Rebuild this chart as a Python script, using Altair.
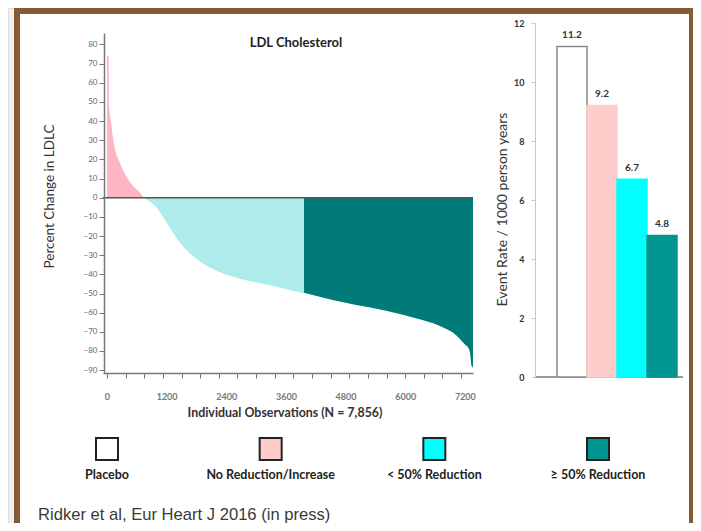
import altair as alt
import pandas as pd

# ---------------- data ----------------
# Left panel: individual % change in LDLC (sorted waterfall), by response group
pink_obs = [0, 35, 45, 70, 127, 262, 396, 529, 664, 730]
pink_pct = [74, 74, 47, 42, 30, 18, 11, 6, 2.7, 0]
cyan_obs = [730, 1000, 1201, 1469, 1805, 2139, 2676, 3346, 3964]
cyan_pct = [0, -5.2, -13, -23.5, -32, -37.4, -42.3, -46.1, -50]
teal_obs = [3964, 4823, 5493, 6157, 6700, 7036, 7203, 7270, 7304, 7338, 7364]
teal_pct = [-49.6, -55, -58.3, -62.5, -67, -72, -76.6, -78.5, -81, -88, -88.6]
area_groups = ["No Reduction/Increase", "< 50% Reduction", "≥ 50% Reduction"]

# Right panel: event rates
groups = ["Placebo", "No Reduction/Increase", "< 50% Reduction", "≥ 50% Reduction"]
rates = [11.2, 9.2, 6.7, 4.8]

# Axis tick values / labels
x_ticks = list(range(0, 7126, 375))
x_labels = [0, 1200, 2400, 3600, 4800, 6000, 7200]
y_left_ticks = list(range(-90, 81, 10))
y_right_ticks = [0, 2, 4, 6, 8, 10, 12]

# Text
left_title = "LDL Cholesterol"
left_ytitle = "Percent Change in LDLC"
left_xtitle = "Individual Observations (N = 7,856)"
right_ytitle = "Event Rate / 1000 person years"
footnote = "Ridker et al, Eur Heart J 2016 (in press)"

# ---------------- tables ----------------
area_df = pd.concat([
    pd.DataFrame({"obs": pink_obs, "pct": pink_pct, "group": area_groups[0]}),
    pd.DataFrame({"obs": cyan_obs, "pct": cyan_pct, "group": area_groups[1]}),
    pd.DataFrame({"obs": teal_obs, "pct": teal_pct, "group": area_groups[2]}),
], ignore_index=True)
bar_df = pd.DataFrame({"group": groups, "rate": rates})
one = pd.DataFrame({"k": [0]})

W, H = 685, 515
FONT = "Lato"

area_colors = ["#ffb6c4", "#aeecec", "#007b79"]
bar_fills = ["#ffffff", "#ffcccc", "#00ffff", "#00958f"]
bar_strokes = ["#8a8a8a", "#ffcccc", "#00ffff", "#00958f"]

xl_scale = alt.Scale(domain=[-80, 7364], range=[95, 465], nice=False, zero=False)
yl_scale = alt.Scale(domain=[-91.5, 86], range=[365, 25], nice=False, zero=False)
yr_scale = alt.Scale(domain=[0, 12], range=[369, 15], nice=False)
xr_scale = alt.Scale(domain=groups, range=[549, 669], paddingInner=0, paddingOuter=0)
leg_scale = alt.Scale(domain=groups, range=[99, 590], padding=0)
fill_scale = alt.Scale(domain=groups, range=bar_fills)

# ---------------- frame ----------------
frame = alt.Chart(one).mark_rect(color="#865a32").encode(
    x=alt.value(6), x2=alt.value(688), y=alt.value(0), y2=alt.value(H))
inner = alt.Chart(one).mark_rect(color="#ffffff").encode(
    x=alt.value(12), x2=alt.value(681), y=alt.value(6), y2=alt.value(H))

# ---------------- left panel ----------------
areas = alt.Chart(area_df).mark_area(interpolate="monotone", opacity=1).encode(
    x=alt.X("obs:Q", scale=xl_scale,
            axis=alt.Axis(orient="bottom", offset=-150, values=x_ticks, labels=False,
                          title=None, grid=False, tickSize=5, domainColor="#777",
                          tickColor="#777", domainWidth=1.5, zindex=1)),
    y=alt.Y("pct:Q", scale=yl_scale, stack=None,
            axis=alt.Axis(orient="left", offset=-96, values=y_left_ticks, title=None,
                          grid=False, tickSize=5, labelPadding=2, labelFontSize=8,
                          labelColor="#666", labelFont=FONT, domainColor="#777",
                          tickColor="#777", domainWidth=1.5, zindex=1)),
    y2=alt.datum(0),
    color=alt.Color("group:N", scale=alt.Scale(domain=area_groups, range=area_colors),
                    legend=None),
)

zero_rule = alt.Chart(one).mark_rule(color="#555", strokeWidth=1.5).encode(
    x=alt.X(datum=-80, type="quantitative", scale=xl_scale,
            axis=alt.Axis(orient="bottom", offset=-150, values=x_labels, ticks=False,
                          domain=False, labelPadding=19, labelFontSize=9, format="d",
                          labelFontWeight="bold", labelColor="#777", labelFont=FONT,
                          labelFlush=False, title=None, grid=False, zindex=1)),
    x2=alt.datum(7364),
    y=alt.Y(datum=0, type="quantitative", scale=yl_scale, axis=None),
)

# ---------------- right panel ----------------
baseline = alt.Chart(one).mark_rule(color="#9a9a9a", strokeWidth=2).encode(
    y=alt.Y(datum=0, type="quantitative", scale=yr_scale, axis=None),
    x=alt.value(527), x2=alt.value(675),
)

bars = alt.Chart(bar_df).mark_bar(strokeWidth=1.5, opacity=1).encode(
    x=alt.X("group:N", scale=xr_scale, sort=groups, axis=None),
    y=alt.Y("rate:Q", scale=yr_scale,
            axis=alt.Axis(orient="left", offset=-527, values=y_right_ticks, title=None,
                          grid=False, tickSize=4, labelPadding=7, labelFontSize=9,
                          labelFontWeight="bold", labelColor="#333", labelFont=FONT,
                          domainColor="#c8c8c8", tickColor="#c8c8c8", zindex=1)),
    fill=alt.Fill("group:N", scale=fill_scale, legend=None),
    stroke=alt.Stroke("group:N", scale=alt.Scale(domain=groups, range=bar_strokes),
                      legend=None),
)

bar_text = alt.Chart(bar_df).mark_text(dy=-11.5, fontSize=10, fontWeight="bold",
                                       font=FONT, color="#333", baseline="middle").encode(
    x=alt.X("group:N", scale=xr_scale, sort=groups, axis=None),
    y=alt.Y("rate:Q", scale=yr_scale, axis=None),
    text=alt.Text("rate:Q", format=".1f"),
)

# ---------------- titles ----------------
def label(txt, x, y, size=12, weight="normal", angle=0, align="center",
          font=FONT, color="#333", baseline="middle"):
    return alt.Chart(pd.DataFrame({"t": [txt]})).mark_text(
        fontSize=size, fontWeight=weight, angle=angle, align=align, font=font,
        color=color, baseline=baseline).encode(
        x=alt.value(x), y=alt.value(y), text="t:N")

t_left = label(left_title, 288, 35, size=13, weight="bold", color="#222")
t_ly = label(left_ytitle, 42, 188.5, size=13.5, angle=270, color="#333")
t_lx = label(left_xtitle, 277, 405, size=12.4, weight="bold", color="#333")
t_ry = label(right_ytitle, 495, 201.5, size=14, angle=270, color="#333")
t_foot = label(footnote, 30, 512, size=16.6, font="Liberation Sans", align="left",
               color="#3a3a3a", baseline="alphabetic")

# ---------------- legend ----------------
leg_df = pd.DataFrame({"group": groups})
leg_sq = alt.Chart(leg_df).mark_square(size=484, opacity=1, filled=True,
                                       stroke="#222", strokeWidth=2).encode(
    x=alt.X("group:N", scale=leg_scale, sort=groups, axis=None),
    y=alt.value(441),
    fill=alt.Fill("group:N", scale=fill_scale, legend=None),
)
leg_txt = alt.Chart(leg_df).mark_text(fontSize=12.5, fontWeight="bold", font=FONT,
                                      color="#222", baseline="middle").encode(
    x=alt.X("group:N", scale=leg_scale, sort=groups, axis=None),
    y=alt.value(466.5),
    text="group:N",
)

chart = alt.layer(
    frame, inner, areas, zero_rule, baseline, bars, bar_text,
    t_left, t_ly, t_lx, t_ry, t_foot, leg_sq, leg_txt,
).resolve_scale(
    x="independent", y="independent", color="independent", stroke="independent"
).properties(
    width=W, height=H, padding=0, background="#f0f0f0",
    autosize=alt.AutoSizeParams(type="none"),
).configure_view(stroke=None).configure(font=FONT)

chart.save("out.html", embed_options={"renderer": "svg", "actions": False})
